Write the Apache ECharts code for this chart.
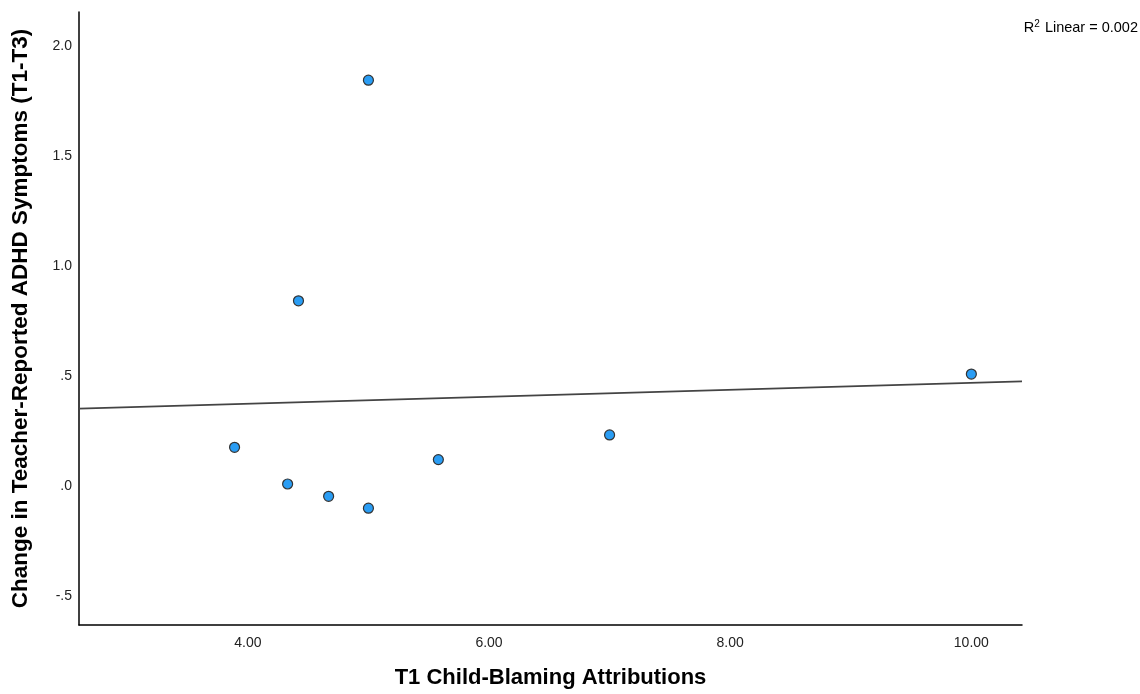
<!DOCTYPE html>
<html>
<head>
<meta charset="utf-8">
<script src="https://cdn.jsdelivr.net/npm/echarts@6/dist/echarts.min.js"></script>
<style>html,body{margin:0;padding:0;background:#fff;}#c{width:1140px;height:694px;}</style>
</head>
<body>
<div id="c"></div>
<script>
var xValues = [3.89, 4.33, 4.67, 5.00, 5.58, 7.00, 5.00, 4.42, 10.00];
var yValues = [0.176, 0.009, -0.047, -0.101, 0.120, 0.232, 1.845, 0.842, 0.509];
var xTicks = [4, 6, 8, 10];
var yTicks = [-0.5, 0, 0.5, 1.0, 1.5, 2.0];
var xMin = 2.6, xMax = 10.42, yMin = -0.632, yMax = 2.155;

// least squares fit
var n = xValues.length, mx = 0, my = 0;
for (var i = 0; i < n; i++) { mx += xValues[i]; my += yValues[i]; }
mx /= n; my /= n;
var sxy = 0, sxx = 0, syy = 0;
for (var i = 0; i < n; i++) {
  sxy += (xValues[i] - mx) * (yValues[i] - my);
  sxx += (xValues[i] - mx) * (xValues[i] - mx);
  syy += (yValues[i] - my) * (yValues[i] - my);
}
var slope = sxy / sxx, icpt = my - slope * mx;
var r2 = (sxy * sxy) / (sxx * syy);
var fitLine = [[xMin, icpt + slope * xMin], [xMax, icpt + slope * xMax]];
var points = xValues.map(function (x, i) { return [x, yValues[i]]; });

function fmtY(v) {
  var s = Math.abs(v).toFixed(1).replace(/^0/, '');
  return (v < 0 ? '-' : '') + s;
}

var font = '"Liberation Sans", Arial, sans-serif';
var chart = echarts.init(document.getElementById('c'));
chart.setOption({
  animation: false,
  backgroundColor: '#fff',
  grid: { left: 79, right: 118, top: 12, bottom: 69, containLabel: false, outerBoundsMode: 'none' },
  xAxis: {
    type: 'value', min: xMin, max: xMax,
    name: 'T1 Child-Blaming Attributions',
    nameLocation: 'middle', nameGap: 42,
    nameTextStyle: { fontFamily: font, fontSize: 22, fontWeight: 'bold', color: '#000' },
    axisLine: { show: true, onZero: false, lineStyle: { color: '#000', width: 1.5 } },
    axisTick: { show: false },
    splitLine: { show: false },
    axisLabel: {
      customValues: xTicks, margin: 11,
      fontFamily: font, fontSize: 14, color: '#222',
      formatter: function (v) { return v.toFixed(2); }
    }
  },
  yAxis: {
    type: 'value', min: yMin, max: yMax,
    name: 'Change in Teacher-Reported ADHD Symptoms (T1-T3)',
    nameLocation: 'middle', nameGap: 47,
    nameTextStyle: { fontFamily: font, fontSize: 22.5, fontWeight: 'bold', color: '#000' },
    axisLine: { show: true, onZero: false, lineStyle: { color: '#000', width: 1.5 } },
    axisTick: { show: false },
    splitLine: { show: false },
    axisLabel: {
      customValues: yTicks, margin: 7,
      fontFamily: font, fontSize: 14, color: '#222',
      formatter: fmtY
    }
  },
  series: [
    {
      type: 'line', data: fitLine, showSymbol: false, symbol: 'none',
      lineStyle: { color: '#444', width: 1.6 }, silent: true, z: 1
    },
    {
      type: 'scatter', data: points, symbol: 'circle', symbolSize: 10,
      itemStyle: { color: '#2a9df4', borderColor: '#333', borderWidth: 1.2, opacity: 1 },
      z: 2
    }
  ],
  graphic: [{
    type: 'text', right: 2, top: 19,
    style: {
      text: '{a|R}{s|2}{a| Linear = ' + r2.toFixed(3) + '}',
      rich: {
        a: { fontFamily: font, fontSize: 14.5, color: '#222', verticalAlign: 'bottom' },
        s: { fontFamily: font, fontSize: 10, color: '#222', verticalAlign: 'top', padding: [0, 1, 6, 0] }
      }
    }
  }]
});
</script>
</body>
</html>
